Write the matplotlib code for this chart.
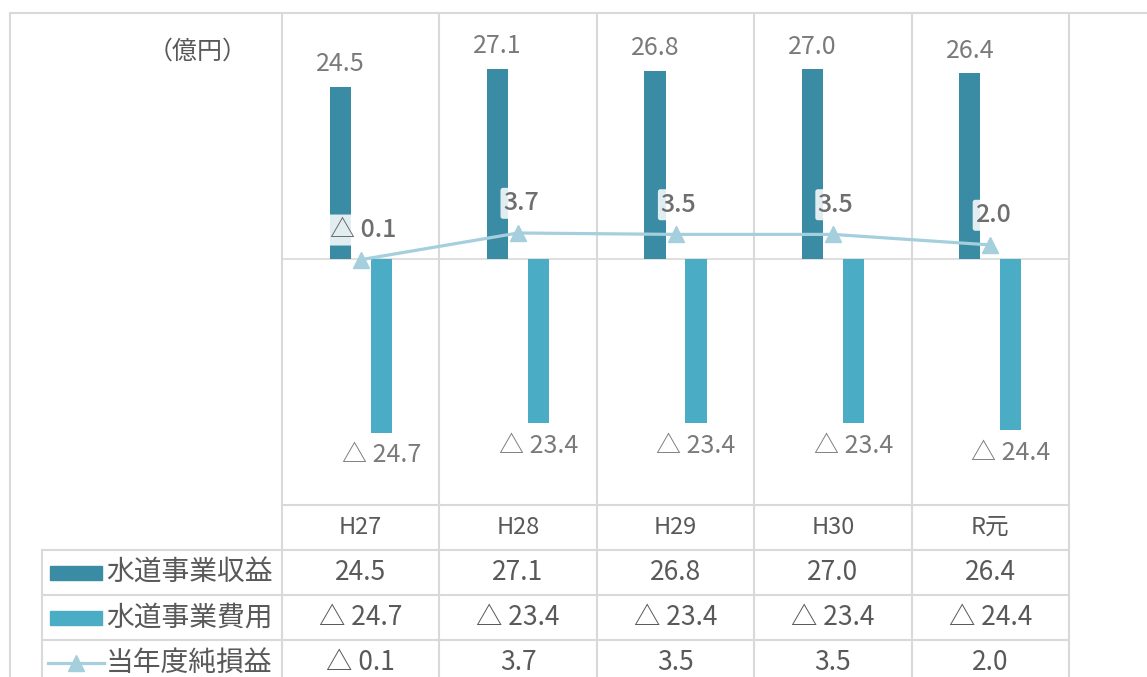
import numpy as np
import matplotlib
matplotlib.use("Agg")
import matplotlib.pyplot as plt
import matplotlib.patheffects as pe
from matplotlib.lines import Line2D
from matplotlib.patches import Rectangle

plt.rcParams['font.family'] = ['Noto Sans CJK JP', 'DejaVu Sans']

# data
years = ['H27', 'H28', 'H29', 'H30', 'R元']
income = [24.5, 27.1, 26.8, 27.0, 26.4]      # 水道事業収益
cost = [-24.7, -23.4, -23.4, -23.4, -24.4]    # 水道事業費用
net = [-0.1, 3.7, 3.5, 3.5, 2.0]              # 当年度純損益
series_names = ['水道事業収益', '水道事業費用', '当年度純損益']

c_inc = '#3A8CA4'
c_cost = '#4BACC6'
c_net = '#A5CFDC'
c_grid = '#D9D9D9'
c_lab = '#7A7A7A'
c_txt = '#595959'


def fmt(v):
    return f'△ {abs(v):.1f}' if v < 0 else f'{v:.1f}'


W, H = 1147, 677
fig = plt.figure(figsize=(W / 100, H / 100), dpi=100)


def fx(px):
    return px / W


def fy(py):
    return 1 - py / H


# plot area
left, right, top, bottom = 282, 1069, 13, 505
ax = fig.add_axes([fx(left), fy(bottom), fx(right - left), (bottom - top) / H])
x = np.arange(len(years))
bw = 0.134
off = 0.13
ax.bar(x - off, income, bw, color=c_inc, zorder=2)
ax.bar(x + off, cost, bw, color=c_cost, zorder=2)
ax.plot(x, net, color=c_net, lw=2.3, marker='^', ms=11, zorder=3)
ax.axhline(0, color=c_grid, lw=1.2, zorder=1)
ax.set_xlim(-0.5, len(years) - 0.5)
ax.set_ylim(-35, 35)
ax.axis('off')

for i in range(len(years)):
    ax.annotate(f'{income[i]:.1f}', (x[i] - off, income[i]), xytext=(0, 7),
                textcoords='offset points', ha='center', va='bottom',
                fontsize=18, color=c_lab)
    ax.annotate(fmt(cost[i]), (x[i] + off, cost[i]), xytext=(0, -7),
                textcoords='offset points', ha='center', va='top',
                fontsize=18, color=c_lab)
    # net labels sit on a soft white halo like the original
    ax.annotate(fmt(net[i]), (x[i], net[i]), xytext=(2, 12),
                textcoords='offset points', ha='center', va='bottom',
                fontsize=18, color='#6E6E6E', fontweight='medium', zorder=5,
                bbox=dict(boxstyle='round,pad=0.1', fc='white', ec='none', alpha=0.85))

fig.text(fx(198), fy(52), '（億円）', ha='center', va='center', fontsize=18, color=c_txt)

# frame and grid lines
def fline(x0, y0, x1, y1):
    fig.add_artist(Line2D([fx(x0), fx(x1)], [fy(y0), fy(y1)], color=c_grid, lw=1.5, zorder=0))


fline(10, 13, W, 13)
fline(10, 13, 10, H)
bounds = np.linspace(left, right, len(years) + 1)
for b in bounds:
    fline(b, 13, b, H)

# data table
rows_y = [505, 550, 595, 640]
fline(left, 505, right, 505)
for ry in rows_y[1:]:
    fline(42, ry, right, ry)
fline(42, 550, 42, H)
centers = (bounds[:-1] + bounds[1:]) / 2
for i, yr in enumerate(years):
    fig.text(fx(centers[i]), fy(527), yr, ha='center', va='center', fontsize=17, color=c_txt)

table_vals = [income, cost, net]
for r, vals in enumerate(table_vals):
    cy = (rows_y[r + 1] + (rows_y[r + 2] if r + 2 < len(rows_y) else 685)) / 2
    for i in range(len(years)):
        fig.text(fx(centers[i]), fy(cy), fmt(vals[i]), ha='center', va='center',
                 fontsize=19, color=c_txt)
    fig.text(fx(106), fy(cy), series_names[r], ha='left', va='center', fontsize=20, color=c_txt)
    if r < 2:
        fig.add_artist(Rectangle((fx(50), fy(cy + 7)), fx(52), 14 / H,
                                 color=[c_inc, c_cost][r]))
    else:
        fig.add_artist(Line2D([fx(48), fx(76), fx(104)], [fy(cy)] * 3, color=c_net, lw=2.3,
                              marker='^', ms=11, markevery=[1]))

fig.savefig('out.png', dpi=100)
